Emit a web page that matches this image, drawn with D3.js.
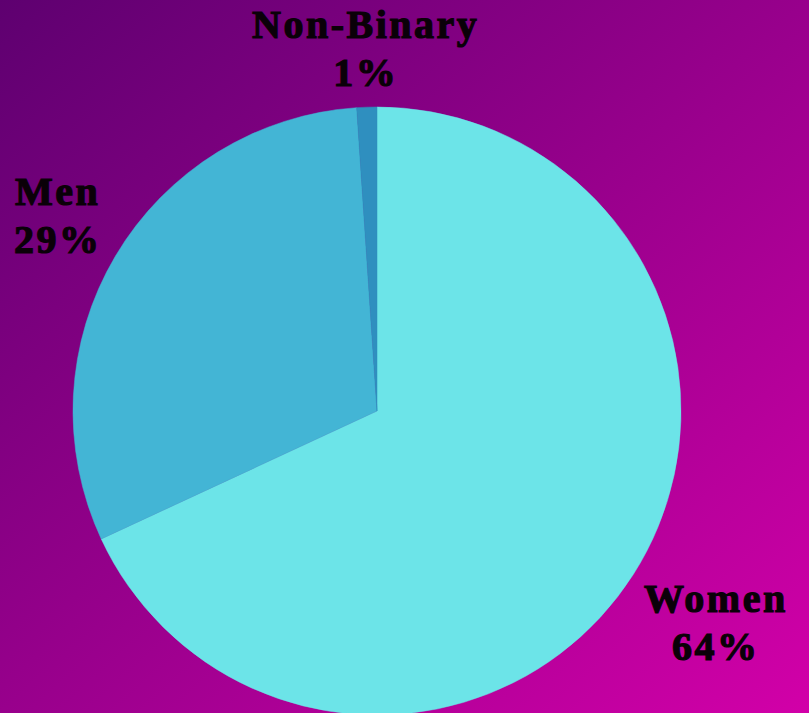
<!DOCTYPE html>
<html>
<head>
<meta charset="utf-8">
<script src="https://cdn.jsdelivr.net/npm/d3@7"></script>
<style>
  html, body { margin: 0; padding: 0; overflow: hidden; }
  svg { display: block; }
</style>
</head>
<body>
<svg id="chart" width="809" height="713"></svg>
<script>
const categories = ['Women', 'Men', 'Non-Binary']
const values = [64, 29, 1]
const colors = ['#6ce4e8', '#43b5d5', '#2f8fbf']

const width = 809
const height = 713
const cx = 377
const cy = 411
const radius = 304

const svg = d3.select('#chart')

// background gradient, dark purple top-left to magenta bottom-right
const defs = svg.append('defs')
const grad = defs.append('linearGradient')
  .attr('id', 'bg')
  .attr('x1', '0%').attr('y1', '0%')
  .attr('x2', '100%').attr('y2', '100%')
grad.append('stop').attr('offset', '0%').attr('stop-color', '#5e0070')
grad.append('stop').attr('offset', '100%').attr('stop-color', '#d200a8')

svg.append('rect')
  .attr('width', width)
  .attr('height', height)
  .attr('fill', 'url(#bg)')

const data = categories.map((name, i) => ({ name, value: values[i], color: colors[i] }))

const pie = d3.pie().sort(null).value(d => d.value)
const arcs = pie(data)

const arc = d3.arc().innerRadius(0).outerRadius(radius)
const labelArc = d3.arc().innerRadius(370).outerRadius(370)

const g = svg.append('g').attr('transform', `translate(${cx},${cy})`)

g.selectAll('path')
  .data(arcs)
  .join('path')
  .attr('d', arc)
  .attr('fill', d => d.data.color)
  .attr('stroke', d => d.data.color)
  .attr('stroke-width', 0.5)

// nudges so labels sit where the original placed them
const nudge = {
  'Women': [27, 10],
  'Men': [-1, -9],
  'Non-Binary': [1, 5]
}

const labels = g.selectAll('text.lbl')
  .data(arcs)
  .join('text')
  .attr('class', 'lbl')
  .attr('transform', d => {
    const [x, y] = labelArc.centroid(d)
    const [nx, ny] = nudge[d.data.name]
    return `translate(${x + nx},${y + ny})`
  })
  .attr('text-anchor', 'middle')
  .style('font-family', '"Liberation Serif", "DejaVu Serif", serif')
  .style('font-weight', 'bold')
  .style('font-size', '40px')
  .style('letter-spacing', '2.5px')
  .attr('fill', '#0a0008')
  .attr('stroke', '#0a0008')
  .attr('stroke-width', 1.2)

labels.append('tspan')
  .attr('x', 0)
  .attr('dy', '-0.2em')
  .text(d => d.data.name)

labels.append('tspan')
  .attr('x', 0)
  .attr('dy', '1.2em')
  .text(d => `${d.data.value}%`)
</script>
</body>
</html>
